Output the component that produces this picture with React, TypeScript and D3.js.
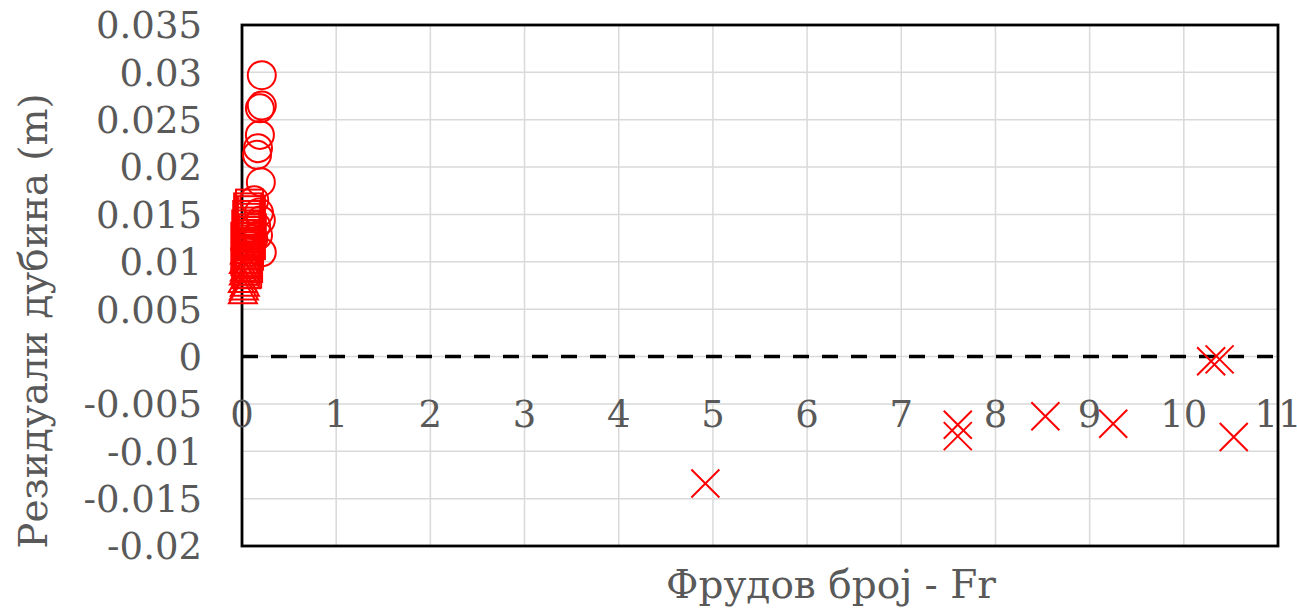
import React from 'react';
import { scaleLinear, range } from 'd3';

// Residuals vs Froude number
const circleFr = [0.21, 0.21, 0.19, 0.19, 0.17, 0.16, 0.2, 0.18, 0.2, 0.21, 0.13, 0.15, 0.12, 0.17];
const circleRes = [0.0297, 0.0265, 0.0262, 0.0234, 0.022, 0.0213, 0.0184, 0.0152, 0.0144, 0.011, 0.0165, 0.0138, 0.0124, 0.0128];

const squareFr = [0.08, 0.06, 0.1, 0.05, 0.09, 0.07, 0.04, 0.11, 0.06, 0.08, 0.03, 0.09, 0.05, 0.1, 0.07, 0.04, 0.08, 0.06, 0.03, 0.05, 0.07, 0.04, 0.06];
const squareRes = [0.0162, 0.0158, 0.0155, 0.015, 0.0147, 0.0143, 0.014, 0.0136, 0.0133, 0.013, 0.0127, 0.0124, 0.012, 0.0117, 0.0113, 0.011, 0.0106, 0.0103, 0.01, 0.0097, 0.0093, 0.009, 0.0087];

const triFr = [0.01, 0.02, 0.03, 0.01, 0.04, 0.02, 0.03, 0.05, 0.02, 0.04, 0.03];
const triRes = [0.0068, 0.0072, 0.0076, 0.008, 0.0084, 0.0088, 0.0092, 0.0096, 0.01, 0.0105, 0.011];

const crossFr = [4.92, 7.6, 7.6, 8.53, 9.25, 10.29, 10.38, 10.53];
const crossRes = [-0.0134, -0.0072, -0.0084, -0.0063, -0.0071, -0.0005, -0.0003, -0.0085];

const xTicks = range(0, 12);
const yTicks = [-0.02, -0.015, -0.01, -0.005, 0, 0.005, 0.01, 0.015, 0.02, 0.025, 0.03, 0.035];
const yTickLabels = ['-0.02', '-0.015', '-0.01', '-0.005', '0', '0.005', '0.01', '0.015', '0.02', '0.025', '0.03', '0.035'];

const xTitle = 'Фрудов број - Fr';
const yTitle = 'Резидуали дубина (m)';

const W = 1297;
const H = 616;
const plot = { left: 242, right: 1278, top: 25, bottom: 546 };
const RED = '#ff0000';
const TEXT = '#595959';
const FONT = 'DejaVu Serif, Liberation Serif, serif';
const FS = 37;
const TITLE_FS = 39;

export default function App() {
  const x = scaleLinear().domain([0, 11]).range([plot.left, plot.right]);
  const y = scaleLinear().domain([-0.02, 0.035]).range([plot.bottom, plot.top]);

  const sq = 27;
  const tri = 14;
  const cr = 14;

  return (
    <svg width={W} height={H} style={{ position: 'absolute', left: 0, top: 0, background: '#fff' }}>
      {/* grid */}
      <g stroke="#d9d9d9" strokeWidth={1.5}>
        {xTicks.map(t => (
          <line key={'gx' + t} x1={x(t)} x2={x(t)} y1={plot.top} y2={plot.bottom} />
        ))}
        {yTicks.map(t => (
          <line key={'gy' + t} x1={plot.left} x2={plot.right} y1={y(t)} y2={y(t)} />
        ))}
      </g>

      {/* zero line */}
      <line x1={plot.left} x2={plot.right} y1={y(0)} y2={y(0)} stroke="#000" strokeWidth={3.5} strokeDasharray="16 13" />

      {/* plot border */}
      <rect x={plot.left} y={plot.top} width={plot.right - plot.left} height={plot.bottom - plot.top}
        fill="none" stroke="#000" strokeWidth={2.8} />

      {/* y tick labels */}
      <g fontFamily={FONT} fontSize={FS} fill={TEXT} textAnchor="end">
        {yTicks.map((t, i) => (
          <text key={'yl' + t} x={202} y={y(t)} dy="0.36em">{yTickLabels[i]}</text>
        ))}
      </g>

      {/* x tick labels */}
      <g fontFamily={FONT} fontSize={FS} fill={TEXT} textAnchor="middle">
        {xTicks.map(t => (
          <text key={'xl' + t} x={x(t)} y={427}>{t}</text>
        ))}
      </g>

      {/* markers */}
      <g fill="none" stroke={RED} strokeWidth={2}>
        {triFr.map((v, i) => {
          const cx = x(v), cy = y(triRes[i]);
          return <path key={'t' + i} d={`M${cx},${cy - tri}L${cx + tri},${cy + tri * 0.8}L${cx - tri},${cy + tri * 0.8}Z`} />;
        })}
        {squareFr.map((v, i) => (
          <rect key={'s' + i} x={x(v) - sq / 2} y={y(squareRes[i]) - sq / 2} width={sq} height={sq} />
        ))}
        {circleFr.map((v, i) => (
          <circle key={'c' + i} cx={x(v)} cy={y(circleRes[i])} r={cr} />
        ))}
        {crossFr.map((v, i) => {
          const cx = x(v), cy = y(crossRes[i]);
          return <path key={'x' + i} d={`M${cx - cr},${cy - cr}L${cx + cr},${cy + cr}M${cx - cr},${cy + cr}L${cx + cr},${cy - cr}`} />;
        })}
      </g>

      {/* axis titles */}
      <text x={831} y={598} textAnchor="middle" fontFamily={FONT} fontSize={TITLE_FS} fill={TEXT}>{xTitle}</text>
      <text transform={`translate(47,321) rotate(-90)`} textAnchor="middle" fontFamily={FONT} fontSize={TITLE_FS} fill={TEXT}>{yTitle}</text>
    </svg>
  );
}
